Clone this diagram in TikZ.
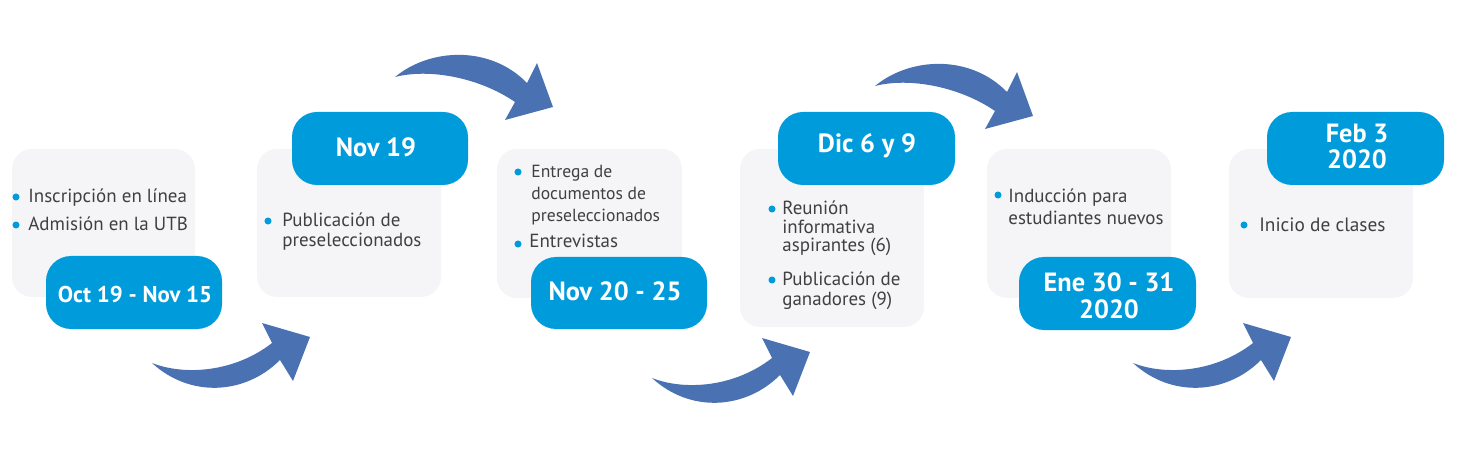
\documentclass[tikz,border=0pt]{standalone}
\usepackage{fontspec}
\setmainfont{PT Sans}
\usepackage{xcolor}
\definecolor{dateblue}{RGB}{0,155,219}
\definecolor{arrowblue}{RGB}{74,114,178}
\definecolor{boxgray}{RGB}{245,245,247}
\definecolor{textgray}{RGB}{64,64,66}

\begin{document}
\begin{tikzpicture}[x=0.02cm, y=-0.02cm,
    stepbox/.style={fill=boxgray, rounded corners=0.4cm},
    datebox/.style={fill=dateblue, rounded corners=0.5cm},
    datetxt/.style={text=white, font=\fontsize{15}{15.3}\selectfont\bfseries, align=center, anchor=base, inner sep=0pt},
    itemtxt/.style={text=textgray, font=\fontsize{10.8}{12}\selectfont, anchor=base west, inner sep=0pt},
    bulletdot/.style={fill=dateblue}]
    \useasboundingbox (0,0) rectangle (1459,462);

    % Curved arrows below
    \foreach \dx/\dy in {0/0, 500/15, 981/0}
        \fill[arrowblue, shift={(\dx,\dy)}] (152,363) .. controls (185,376) and (235,372) .. (272,343)
            -- (262,323) -- (310,337) -- (293,381) -- (280,360)
            .. controls (245,395) and (190,398) .. (152,363) -- cycle;

    % Curved arrows above
    \foreach \dx/\dy in {0/0, 480/9}
        \fill[arrowblue, shift={(\dx,\dy)}] (395,77) .. controls (430,48) and (490,45) .. (527,83)
            -- (537,63) -- (553,107) -- (505,120) -- (515,102)
            .. controls (480,78) and (430,68) .. (395,77) -- cycle;

    % Step 1
    \fill[stepbox] (12,149) rectangle (195,297);
    \fill[bulletdot] (16,197) circle (2pt);
    \node[itemtxt] (s1a) at (28,203) {Inscripción en línea};
    \fill[bulletdot] (16,225) circle (2pt);
    \node[itemtxt] (s1b) at (28,231) {Admisión en la UTB};
    \fill[datebox] (46,256) rectangle (222,329);
    \node[datetxt, font=\fontsize{13}{15}\selectfont\bfseries] (d1) at (135,302) {Oct 19 - Nov 15};

    % Step 2
    \fill[stepbox] (257,149) rectangle (441,297);
    \fill[bulletdot] (268,221) circle (2pt);
    \node[itemtxt] (s2a) at (282,227) {Publicación de};
    \node[itemtxt] (s2b) at (282,247) {preseleccionados};
    \fill[datebox] (292,112) rectangle (468,185);
    \node[datetxt] (d2) at (376,157) {Nov 19};

    % Step 3
    \fill[stepbox] (497,149) rectangle (682,298);
    \fill[bulletdot] (518,172) circle (2pt);
    \node[itemtxt, font=\fontsize{10}{12}\selectfont] (s3a) at (531,178) {Entrega de};
    \node[itemtxt, font=\fontsize{10}{12}\selectfont] (s3b) at (531,200) {documentos de};
    \node[itemtxt, font=\fontsize{10}{12}\selectfont] (s3c) at (531,222) {preseleccionados};
    \fill[bulletdot] (518,244) circle (2pt);
    \node[itemtxt] (s3d) at (529,248) {Entrevistas};
    \fill[datebox] (531,257) rectangle (707,329);
    \node[datetxt] (d3) at (615,300) {Nov 20 - 25};

    % Step 4
    \fill[stepbox] (740,149) rectangle (924,327);
    \fill[bulletdot] (772,209) circle (2pt);
    \node[itemtxt] (s4a) at (782,215) {Reunión};
    \node[itemtxt] (s4b) at (782,234) {informativa};
    \node[itemtxt] (s4c) at (782,252) {aspirantes (6)};
    \fill[bulletdot] (772,280) circle (2pt);
    \node[itemtxt] (s4d) at (782,286) {Publicación de};
    \node[itemtxt] (s4e) at (782,305) {ganadores (9)};
    \fill[datebox] (778,112) rectangle (955,185);
    \node[datetxt] (d4) at (867,153) {Dic 6 y 9};

    % Step 5
    \fill[stepbox] (987,149) rectangle (1171,298);
    \fill[bulletdot] (998,195) circle (2pt);
    \node[itemtxt] (s5a) at (1008,203) {Inducción para};
    \node[itemtxt] (s5b) at (1008,225) {estudiantes nuevos};
    \fill[datebox] (1019,257) rectangle (1196,330);
    \node[datetxt] (d5) at (1109,318) {Ene 30 - 31\\2020};

    % Step 6
    \fill[stepbox] (1229,149) rectangle (1413,298);
    \fill[bulletdot] (1244,225) circle (2pt);
    \node[itemtxt, font=\fontsize{11}{12}\selectfont] (s6a) at (1259,232) {Inicio de clases};
    \fill[datebox] (1267,112) rectangle (1444,185);
    \node[datetxt] (d6) at (1357,169) {Feb 3\\2020};
\end{tikzpicture}
\end{document}
